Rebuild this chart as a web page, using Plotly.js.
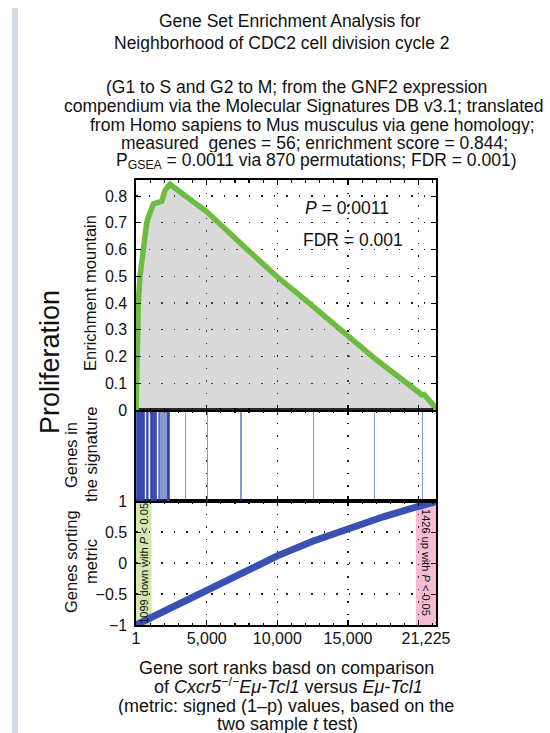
<!DOCTYPE html>
<html>
<head>
<meta charset="utf-8">
<script src="https://cdn.plot.ly/plotly-3.0.1.min.js"></script>
<style>
  html, body { margin: 0; padding: 0; background: #ffffff; }
  #chart { width: 550px; height: 733px; }
</style>
</head>
<body>
<div id="chart"></div>
<script>
// Ranked gene list size and the counts of significant genes at either end
const nGenes = 21225;
const nDown = 1099;
const nUp = 1426;

// Running enrichment score ("enrichment mountain") along the ranked list
const esRank  = [1, 40, 90, 165, 283, 400, 518, 640, 757, 870, 1050, 1225, 1500, 1820, 1930, 2050, 2250, 2400,
                 3500, 5000, 7830, 9950, 12080, 14200, 17030, 19860, 20280, 20300, 21035, 21225];
const esValue = [0, 0.15, 0.30, 0.40, 0.50, 0.56, 0.60, 0.66, 0.70, 0.72, 0.75, 0.77, 0.775, 0.78, 0.80, 0.82, 0.835, 0.844,
                 0.80, 0.742, 0.602, 0.500, 0.407, 0.312, 0.187, 0.072, 0.054, 0.062, 0.019, 0];

// Positions of the 56 signature genes in the ranked list
const hitRanks = [55, 83, 111, 139, 167, 195, 223, 251, 279, 307, 335, 363, 391, 419, 447, 475, 503, 531, 559, 585,
                  755, 790, 825, 865,
                  1045, 1080, 1115, 1150, 1185, 1220, 1260, 1295, 1330, 1365, 1400, 1435,
                  1615, 1715, 1815, 1915, 2015, 2115,
                  2225, 2242, 2259, 2276, 2293, 2310, 2327, 2345,
                  3517, 5045, 7430, 12573, 16860, 20285];

// Sorting metric: signed (1-p) value of each ranked gene
const metricRank  = [1, 1100, 2500, 5000, 7500, 10000, 12500, 15000, 17500, 20000, 21225];
const metricValue = [-1, -0.88, -0.73, -0.45, -0.16, 0.115, 0.35, 0.555, 0.745, 0.915, 0.99];

// Axis ticks: grid / tick marks every 5,000 ranks, labels along the bottom
const xGridVals = [1, 5000, 10000, 15000, 20000];
const xLabelVals = [1, 5000, 10000, 15000, 20520];
const xLabelText = ['1', '5,000', '10,000', '15,000', '21,225'];
const esTickVals = [0, 0.1, 0.2, 0.3, 0.4, 0.5, 0.6, 0.7, 0.8];
const metricTickVals = [-1, -0.5, 0, 0.5, 1];
const metricTickText = ['\u22121', '\u22120.5', '0', '0.5', '1'];

const FONT = 'Liberation Sans, Arial, Helvetica, sans-serif';
const GREEN = '#6cbd3f';
const BLUE = '#3a50b2';

// plot box in pixels: left 136, right 436, top 180, bottom 625
const L = 136, R = 436, T = 180, B = 625;
const px = v => (v - L) / (R - L);
const py = v => (B - v) / (B - T);

const dotGrid = { showgrid: true, gridcolor: '#222', gridwidth: 1.3, griddash: '1.5px,11px' };

const xCommon = Object.assign({
  range: [1, nGenes], tickmode: 'array', tickvals: xGridVals, showticklabels: false,
  ticks: 'inside', ticklen: 5, tickcolor: '#000', tickwidth: 1.2,
  minor: { dtick: 1000, tick0: 0, ticks: 'inside', ticklen: 2.5, tickcolor: '#000', showgrid: false },
  showline: true, linecolor: '#000', linewidth: 1.6, mirror: 'ticks',
  zeroline: false, fixedrange: true
}, dotGrid);

const traces = [
  {
    x: metricRank, y: metricValue, xaxis: 'x', yaxis: 'y',
    type: 'scatter', mode: 'lines',
    line: { color: BLUE, width: 7 },
    hoverinfo: 'skip'
  },
  {
    x: hitRanks, y: hitRanks.map(() => 1), xaxis: 'x2', yaxis: 'y2',
    type: 'bar', width: 110,
    marker: { color: 'rgba(45,65,172,0.55)', line: { width: 0 } },
    hoverinfo: 'skip'
  },
  {
    x: esRank, y: esValue, xaxis: 'x3', yaxis: 'y3',
    type: 'scatter', mode: 'lines',
    fill: 'tozeroy', fillcolor: 'rgba(128,128,128,0.30)',
    line: { color: GREEN, width: 5.5 },
    hoverinfo: 'skip'
  },
  // carrier for the rank-label axis
  { x: [], y: [], xaxis: 'x4', yaxis: 'y', type: 'scatter', mode: 'lines', hoverinfo: 'skip' }
];

const yBottom = py(501), yMid = py(410);

const layout = {
  width: 550, height: 733,
  margin: { l: L, r: 550 - R, t: T, b: 733 - B, pad: 0 },
  paper_bgcolor: '#ffffff', plot_bgcolor: '#ffffff',
  showlegend: false, bargap: 0,
  font: { family: FONT, color: '#111' },
  xaxis: Object.assign({}, xCommon, { anchor: 'y', domain: [0, 1] }),
  xaxis2: Object.assign({}, xCommon, { anchor: 'y2', domain: [0, 1], matches: 'x' }),
  xaxis3: Object.assign({}, xCommon, { anchor: 'y3', domain: [0, 1], matches: 'x' }),
  xaxis4: {
    overlaying: 'x', anchor: 'y', side: 'bottom', range: [1, nGenes],
    tickmode: 'array', tickvals: xLabelVals, ticktext: xLabelText,
    ticks: '', showgrid: false, showline: false, zeroline: false, fixedrange: true,
    ticklabelstandoff: 2,
    tickfont: { family: FONT, size: 16, color: '#111' }
  },
  yaxis: Object.assign({
    domain: [0, yBottom], range: [-1, 1], tickmode: 'array',
    tickvals: metricTickVals, ticktext: metricTickText,
    ticks: 'inside', ticklen: 5, tickcolor: '#000',
    showline: true, linecolor: '#000', linewidth: 1.6, mirror: 'ticks',
    zeroline: false, fixedrange: true, ticklabelstandoff: 4,
    tickfont: { family: FONT, size: 16, color: '#111' }
  }, dotGrid),
  yaxis2: {
    domain: [yBottom, yMid], range: [0, 1],
    showticklabels: false, ticks: '', showgrid: false, zeroline: false,
    showline: true, linecolor: '#000', linewidth: 1.6, mirror: true, fixedrange: true
  },
  yaxis3: Object.assign({
    domain: [yMid, 1], range: [0, 0.86], tickmode: 'array', tickvals: esTickVals,
    ticks: 'inside', ticklen: 5, tickcolor: '#000',
    showline: true, linecolor: '#000', linewidth: 1.6, mirror: 'ticks',
    zeroline: false, fixedrange: true, ticklabelstandoff: 4,
    tickfont: { family: FONT, size: 16, color: '#111' }
  }, dotGrid),
  shapes: [
    // significant down-regulated genes at the start of the ranking
    { type: 'rect', xref: 'x', yref: 'y', x0: 1, x1: nDown, y0: -1, y1: 1,
      fillcolor: '#d3e7ae', line: { width: 0 }, layer: 'below' },
    // significant up-regulated genes at the end of the ranking
    { type: 'rect', xref: 'x', yref: 'y', x0: nGenes - nUp, x1: nGenes, y0: -1, y1: 1,
      fillcolor: '#f5bcd3', line: { width: 0 }, layer: 'below' },
    // page rule on the left
    { type: 'rect', xref: 'paper', yref: 'paper', x0: px(12), x1: px(18), y0: py(733), y1: py(8),
      fillcolor: '#d3dae5', line: { width: 0 }, layer: 'below' }
  ],
  annotations: []
};

const A = layout.annotations;
function line(text, x, y, size, opts) {
  A.push(Object.assign({
    text: text, xref: 'paper', yref: 'paper', x: px(x), y: py(y),
    xanchor: 'center', yanchor: 'middle', showarrow: false, height: 19, valign: 'middle',
    font: { family: FONT, size: size, color: '#111' }
  }, opts || {}));
}

// Title block
line('Gene Set Enrichment Analysis for', 290, 20, 17.5);
line('Neighborhood of CDC2 cell division cycle 2', 282, 43, 17.5);
line('(G1 to S and G2 to M; from the GNF2 expression', 296, 87, 17.5);
line('compendium via the Molecular Signatures DB v3.1; translated', 304, 106, 17.5);
line('from Homo sapiens to Mus musculus via gene homology;', 312, 124, 17.5);
line('measured  genes = 56; enrichment score = 0.844;', 314, 142, 17.5);
line('P<sub>GSEA</sub> = 0.0011 via 870 permutations; FDR = 0.001)', 316, 160, 17.5, { height: 22, yshift: -1 });

// Statistics inside the enrichment panel
A.push({ text: '<i>P</i> = 0:0011', xref: 'x3', yref: 'y3', x: 11815, y: 0.755,
  xanchor: 'left', yanchor: 'middle', showarrow: false, font: { family: FONT, size: 17.5, color: '#111' } });
A.push({ text: 'FDR = 0.001', xref: 'x3', yref: 'y3', x: 11700, y: 0.636,
  xanchor: 'left', yanchor: 'middle', showarrow: false, font: { family: FONT, size: 17.5, color: '#111' } });

// Labels inside the shaded significance bands
A.push({ text: '1099 down with <i>P</i> &lt; 0.05', xref: 'x', yref: 'y', x: (1 + nDown) / 2, y: 0,
  textangle: -90, xanchor: 'center', yanchor: 'middle', showarrow: false,
  font: { family: FONT, size: 11, color: '#111' } });
A.push({ text: '1426 up with <i>P</i> &lt; 0.05', xref: 'x', yref: 'y', x: nGenes - nUp / 2, y: 0,
  textangle: 90, xanchor: 'center', yanchor: 'middle', showarrow: false,
  font: { family: FONT, size: 11, color: '#111' } });

// Row labels on the left
const vert = { textangle: -90, height: null };
line('Proliferation', 50, 362, 27, vert);
line('Enrichment mountain', 90, 293, 16.5, vert);
line('Genes in', 71, 455, 16.5, vert);
line('the signature', 91, 455, 16.5, vert);
line('Genes sorting', 71, 562, 16.5, vert);
line('metric', 91, 562, 16.5, vert);

// x-axis description
line('Gene sort ranks basd on comparison', 286, 667, 18);
line('of <i>Cxcr5</i><sup>\u2212/\u2212</sup><i>E\u03bc-Tcl1</i> versus <i>E\u03bc-Tcl1</i>', 288, 686, 18, { height: 20 });
line('(metric: signed (1\u2013p) values, based on the', 286, 705, 18);
line('two sample <i>t</i> test)', 287, 723, 18);

Plotly.newPlot('chart', traces, layout, { displayModeBar: false, staticPlot: true });
</script>
</body>
</html>
